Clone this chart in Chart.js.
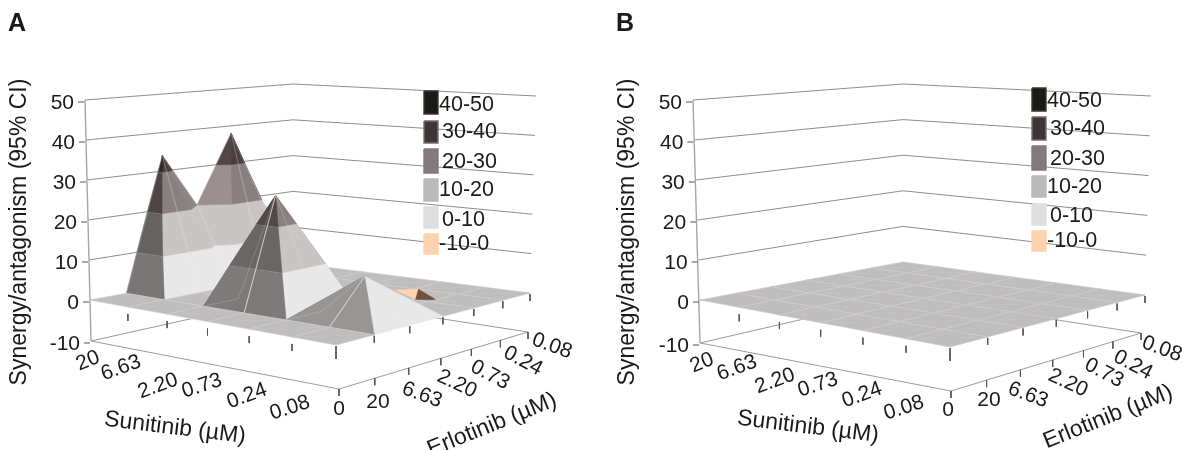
<!DOCTYPE html>
<html>
<head>
<meta charset="utf-8">
<script src="https://cdn.jsdelivr.net/npm/chart.js@4/dist/chart.umd.min.js"></script>
<style>
  html, body { margin: 0; padding: 0; background: #fff; }
  canvas { display: block; filter: blur(0.35px); }
</style>
</head>
<body>
<canvas id="chart" width="1182" height="450"></canvas>
<script>
// ── Datos: sinergia/antagonismo, una fila por dosis de sunitinib ──────────
const SUNITINIB = ["20", "6.63", "2.20", "0.73", "0.24", "0.08", "0"]
const ERLOTINIB = ["0", "20", "6.63", "2.20", "0.73", "0.24", "0.08"]
const Z_TICKS = [50, 40, 30, 20, 10, 0, -10]
const LEGEND_LABELS = ["40-50", "30-40", "20-30", "10-20", "0-10", "-10-0"]

const SYNERGY_A = [
  [0, 0, 34, 20, 38, 18, 0],
  [0, 0, 0, 0, 0, 0, 0],
  [0, 0, 0, 0, 0, 0, 0],
  [0, 0, 27, 0, 0, 0, 0],
  [0, 0, 0, 0, 0, 0, 0],
  [0, 0, 10, 0, 0, 0, 0],
  [0, 0, 0, 0, 0, 0, 0]
]
const SYNERGY_B = [
  [0, 0, 0, 0, 0, 0, 0],
  [0, 0, 0, 0, 0, 0, 0],
  [0, 0, 0, 0, 0, 0, 0],
  [0, 0, 0, 0, 0, 0, 0],
  [0, 0, 0, 0, 0, 0, 0],
  [0, 0, 0, 0, 0, 0, 0],
  [0, 0, 0, 0, 0, 0, 0]
]
// Hundimiento pequeño de A (antagonismo), en coordenadas de malla [i, j, z]
const DIP_LIGHT = [[3.79, 4.66, 0], [4.11, 4.99, 0], [4.3, 4.6, -1.6]]
const DIP_DARK = [[4.11, 4.99, 0], [5.0, 4.26, 0], [4.3, 4.6, -1.6]]

// ── Colores por banda: cara en sombra / cara iluminada ────────────────────
const BANDS = [
  { lo: -10, hi: 0,  dark: [111, 81, 64],  light: [255, 212, 176] },
  { lo: 0,   hi: 10, dark: [122, 118, 118], light: [232, 232, 232] },
  { lo: 10,  hi: 20, dark: [103, 98, 98],  light: [201, 197, 197] },
  { lo: 20,  hi: 30, dark: [79, 69, 69],   light: [138, 128, 128] },
  { lo: 30,  hi: 40, dark: [46, 38, 38],   light: [74, 63, 63] },
  { lo: 40,  hi: 50, dark: [28, 26, 22],   light: [40, 36, 32] }
]
const LEGEND_COLORS = ["#1c1a16", "#403535", "#827b7b", "#bdb9b9", "#dedede", "#ffd2ae"]
const LEGEND_EDGE = ["#3a3632", "#77706f", "#827b7b", "#bdb9b9", "#dedede", "#ffd2ae"]

// ── Geometría de cada panel (esquinas en píxeles a z = 0, 50 y -10) ───────
const PANEL_A = {
  letter: "A", letterX: 8, data: SYNERGY_A, dip: true,
  base: { L: [90, 300], F: [336, 345], R: [530, 293], K: [293, 263] },
  top:  { L: [85, 100], F: [333, 125], R: [536, 96],  K: [293, 84] },
  low:  { L: [91, 341], F: [339, 389], R: [528, 332], K: [293, 296] },
  legendX: 424,
  legendY: [[91, 114], [121, 143], [149, 173], [179, 201], [207, 228], [234, 254]],
  legendText: [[439, 105], [442, 132], [442, 162], [439, 190], [442, 220], [439, 244]],
  yTitleX: 20, yTitleY: 232,
  sun: [[88, 361, -22], [121, 368, -20], [158, 386, -20], [202, 386, -18], [247, 396, -20], [290, 408, -18]],
  erl: [[339, 409, 0], [378, 402, 0], [422, 395, 20], [457, 384, 25], [490, 375, 28], [523, 361, 28], [552, 346, 20]],
  sunTitle: [175, 428, 7], erlTitle: [492, 425, -22]
}
const PANEL_B = {
  letter: "B", letterX: 616, data: SYNERGY_B, dip: false,
  base: { L: [700, 300], F: [950, 347], R: [1145, 295], K: [903, 262] },
  top:  { L: [693, 100], F: [947, 125], R: [1151, 96],  K: [903, 84] },
  low:  { L: [700, 343], F: [951, 391], R: [1141, 333], K: [903, 296] },
  legendX: 1032,
  legendY: [[88, 111], [117, 140], [146, 170], [176, 197], [204, 225], [231, 251]],
  legendText: [[1047, 101], [1050, 129], [1050, 159], [1047, 187], [1050, 216], [1047, 241]],
  yTitleX: 628, yTitleY: 232,
  sun: [[702, 363, -22], [737, 368, -20], [775, 381, -20], [818, 385, -18], [862, 395, -20], [904, 408, -18]],
  erl: [[948, 410, 0], [989, 400, 0], [1028, 395, 20], [1068, 383, 25], [1104, 373, 28], [1133, 365, 28], [1162, 349, 20]],
  sunTitle: [808, 427, 7], erlTitle: [1108, 417, -22]
}

// ── Proyección: homografía cuadrado → cuadrilátero ────────────────────────
function homography(q) {
  const [x0, y0] = q.L, [x1, y1] = q.F, [x2, y2] = q.R, [x3, y3] = q.K
  const dx1 = x1 - x2, dx2 = x3 - x2, sx = x0 - x1 + x2 - x3
  const dy1 = y1 - y2, dy2 = y3 - y2, sy = y0 - y1 + y2 - y3
  const den = dx1 * dy2 - dx2 * dy1
  const g = (sx * dy2 - dx2 * sy) / den
  const h = (dx1 * sy - sx * dy1) / den
  const a = x1 - x0 + g * x1, b = x3 - x0 + h * x3
  const d = y1 - y0 + g * y1, e = y3 - y0 + h * y3
  return (u, v) => {
    const w = g * u + h * v + 1
    return [(a * u + b * v + x0) / w, (d * u + e * v + y0) / w]
  }
}

function makeProjector(panel) {
  const hBase = homography(panel.base)
  const hTop = homography(panel.top)
  const hLow = homography(panel.low)
  return (i, j, z) => {
    const u0 = i / 6, v0 = j / 6
    // ajuste fino: la malla real no sigue del todo la perspectiva
    const u = u0 + 0.11 * u0 * (1 - u0) * (1 - v0)
    const v = v0 - 0.08 * v0 * (1 - v0) * (1 - u0)
    const p = hBase(u, v)
    const q = z >= 0 ? hTop(u, v) : hLow(u, v)
    const t = z >= 0 ? z / 50 : -z / 10
    return { x: p[0] + (q[0] - p[0]) * t, y: p[1] + (q[1] - p[1]) * t }
  }
}

// ── Sombreado ─────────────────────────────────────────────────────────────
function shade(a, b, c) {
  const ux = b.i - a.i, uy = b.j - a.j, uz = (b.z - a.z) * 0.1
  const vx = c.i - a.i, vy = c.j - a.j, vz = (c.z - a.z) * 0.1
  let nx = uy * vz - uz * vy, ny = uz * vx - ux * vz, nz = ux * vy - uy * vx
  if (nz < 0) { nx = -nx; ny = -ny; nz = -nz }
  const len = Math.hypot(nx, ny, nz)
  nx /= len; ny /= len; nz /= len
  return 0.647 + 0.346 * nx + 0.152 * ny + 0.213 * nz + 0.7 * Math.max(nx, 0) * Math.max(-ny, 0)
}

function bandColor(band, f) {
  let t = (f - 0.56) / 0.48
  t = Math.max(0, Math.min(band.lo >= 20 ? 1.3 : 1, t))
  const c = band.dark.map((d, k) => Math.round(d + (band.light[k] - d) * t))
  return `rgb(${c[0]},${c[1]},${c[2]})`
}

// Recorta un polígono por una cota de z
function clipZ(poly, level, keepAbove) {
  const out = []
  poly.forEach((p, k) => {
    const q = poly[(k + 1) % poly.length]
    const pIn = keepAbove ? p.z >= level : p.z <= level
    const qIn = keepAbove ? q.z >= level : q.z <= level
    if (pIn) out.push(p)
    if (pIn !== qIn) {
      const t = (level - p.z) / (q.z - p.z)
      out.push({ i: p.i + (q.i - p.i) * t, j: p.j + (q.j - p.j) * t, z: level })
    }
  })
  return out
}

// ── Datasets ──────────────────────────────────────────────────────────────
const datasets = []

function addLine(points, color, width) {
  datasets.push({
    data: points, showLine: true, fill: false, tension: 0, pointRadius: 0,
    borderColor: color, borderWidth: width, clip: false
  })
}

function addShape(points, color, edge, width) {
  datasets.push({
    data: points.concat([points[0]]), showLine: true, fill: "shape", tension: 0, pointRadius: 0,
    backgroundColor: color, borderColor: edge || color, borderWidth: width === undefined ? 0.6 : width, clip: false
  })
}

function addWalls(panel, proj) {
  const wall = "#8f8d8d"
  ;[10, 20, 30, 40, 50].forEach(z => {
    addLine([proj(0, 0, z), proj(0, 6, z), proj(6, 6, z)], wall, 1)
  })
  // suelo a z = -10
  addLine([proj(0, 0, -10), proj(0, 6, -10), proj(6, 6, -10), proj(6, 0, -10), proj(0, 0, -10)], "#9c9a9a", 1)
  // eje vertical
  addLine([proj(0, 0, 50), proj(0, 0, -10)], "#a8a6a6", 1.4)
  Z_TICKS.forEach(z => {
    const p = proj(0, 0, z)
    addLine([{ x: p.x - 7, y: p.y + 2 }, { x: p.x - 1, y: p.y + 2 }], "#555", 1)
  })
  // marcas del borde inferior
  ERLOTINIB.forEach((_, j) => {
    const p = proj(6, j, -10)
    addLine([{ x: p.x, y: p.y }, { x: p.x, y: p.y + 7 }], "#555", 1)
  })
}

function addSurface(panel, proj) {
  const zs = panel.data
  const cells = []
  for (let i = 0; i < 6; i++) {
    for (let j = 0; j < 6; j++) cells.push([i, j])
  }
  cells.sort((a, b) => (a[0] - a[1]) - (b[0] - b[1]))

  // marcas del borde delantero, bajo la superficie
  SUNITINIB.forEach((_, i) => {
    const p = proj(i, 0, 0)
    if (i > 0) addLine([{ x: p.x, y: p.y + 7 }, { x: p.x, y: p.y + 14 }], "#555", 1)
  })
  ERLOTINIB.forEach((_, j) => {
    const p = proj(6, j, 0)
    addLine([{ x: p.x, y: p.y + 1 }, { x: p.x, y: p.y + 8 }], "#555", 1)
  })

  let dipDone = !panel.dip
  cells.forEach(([i, j]) => {
    if (!dipDone && i - j >= 1) {
      addDip(proj)
      dipDone = true
    }
    const node = (a, b) => ({ i: a, j: b, z: zs[a][b] })
    const c = [node(i, j), node(i + 1, j), node(i + 1, j + 1), node(i, j + 1)]
    // la diagonal pasa por el vértice de mayor |z|
    let top = 0
    c.forEach((n, k) => { if (Math.abs(n.z) > Math.abs(c[top].z)) top = k })
    const tris = top % 2 === 0
      ? [[c[0], c[1], c[2]], [c[0], c[2], c[3]]]
      : [[c[1], c[2], c[3]], [c[1], c[3], c[0]]]
    tris.sort((a, b) => depth(a) - depth(b))

    tris.forEach(tri => {
      const f = shade(tri[0], tri[1], tri[2])
      BANDS.forEach(band => {
        let poly = clipZ(tri, band.lo, true)
        if (poly.length) poly = clipZ(poly, band.hi, false)
        if (poly.length < 3) return
        const zMin = Math.min(...poly.map(p => p.z)), zMax = Math.max(...poly.map(p => p.z))
        if (zMax - zMin < 1e-9 && zMax === band.hi) return
        addShape(poly.map(p => proj(p.i, p.j, p.z)), bandColor(band, f))
        // línea clara entre bandas en las caras en sombra
        if (f < 0.8) {
          poly.forEach((p, k) => {
            const q = poly[(k + 1) % poly.length]
            if (p.z === band.hi && q.z === band.hi) {
              addLine([proj(p.i, p.j, p.z), proj(q.i, q.j, q.z)], "rgba(225,222,222,0.65)", 1)
            }
          })
        }
      })
    })

    // malla
    const faint = "rgba(238,236,236,0.22)"
    const strong = "rgba(238,236,236,0.75)"
    addLine([c[1], c[2]].map(n => proj(n.i, n.j, n.z)), faint, 0.9)
    addLine([c[2], c[3]].map(n => proj(n.i, n.j, n.z)), faint, 0.9)
    addLine([c[3], c[0]].map(n => proj(n.i, n.j, n.z)), faint, 0.9)
    // arista que sube desde el frente hasta un pico interior
    const ridge = i > 0 && c[0].z === 0 && c[3].z > 0
    addLine([c[0], ridge ? c[3] : c[1]].map(n => proj(n.i, n.j, n.z)), ridge ? strong : faint, 0.9)
    if (ridge) addLine([c[0], c[1]].map(n => proj(n.i, n.j, n.z)), faint, 0.9)
  })
}

function addDip(proj) {
  const pts = rows => rows.map(r => proj(r[0], r[1], r[2]))
  addShape(pts(DIP_LIGHT), "rgb(255,212,176)")
  addShape(pts(DIP_DARK), "rgb(111,81,64)")
}

function depth(tri) {
  return tri.reduce((s, n) => s + n.i - n.j, 0)
}

function addLegend(panel) {
  panel.legendY.forEach(([y0, y1], k) => {
    const x0 = panel.legendX, x1 = x0 + 14
    addShape(
      [{ x: x0, y: y0 }, { x: x1, y: y0 }, { x: x1, y: y1 }, { x: x0, y: y1 }],
      LEGEND_COLORS[k], LEGEND_EDGE[k], 1.4
    )
  })
}

;[PANEL_A, PANEL_B].forEach(panel => {
  const proj = makeProjector(panel)
  panel.proj = proj
  addWalls(panel, proj)
  addSurface(panel, proj)
  addLegend(panel)
})

// ── Textos ────────────────────────────────────────────────────────────────
function label(ctx, text, x, y, rot, font, align) {
  ctx.save()
  ctx.translate(x, y)
  ctx.rotate((rot || 0) * Math.PI / 180)
  ctx.font = font
  ctx.fillStyle = "#1a1a1a"
  ctx.textAlign = align || "center"
  ctx.textBaseline = "middle"
  ctx.fillText(text, 0, 0)
  ctx.restore()
}

const textPlugin = {
  id: "panelText",
  afterDraw(chart) {
    const ctx = chart.ctx
    const family = "'Liberation Sans', Arial, sans-serif"
    ;[PANEL_A, PANEL_B].forEach(p => {
      label(ctx, p.letter, p.letterX, 24, 0, `bold 25px ${family}`, "left")
      label(ctx, "Synergy/antagonism (95% CI)", p.yTitleX, p.yTitleY, -90, `23px ${family}`)
      Z_TICKS.forEach(z => {
        const q = p.proj(0, 0, z)
        label(ctx, String(z), q.x - 11, q.y + 3, 0, `21px ${family}`, "right")
      })
      p.sun.forEach(([x, y, r], k) => label(ctx, SUNITINIB[k], x, y, r, `21px ${family}`))
      p.erl.forEach(([x, y, r], k) => label(ctx, ERLOTINIB[k], x, y, r, `21px ${family}`))
      label(ctx, "Sunitinib (µM)", p.sunTitle[0], p.sunTitle[1], p.sunTitle[2], `23px ${family}`)
      label(ctx, "Erlotinib (µM)", p.erlTitle[0], p.erlTitle[1], p.erlTitle[2], `23px ${family}`)
      LEGEND_LABELS.forEach((t, k) => {
        const [x, y] = p.legendText[k]
        label(ctx, t, x, y, 0, `21.5px ${family}`, "left")
      })
    })
  }
}

new Chart(document.getElementById("chart"), {
  type: "scatter",
  data: { datasets: datasets.slice().reverse() },
  options: {
    responsive: false,
    animation: false,
    events: [],
    layout: { padding: 0 },
    plugins: { legend: { display: false }, tooltip: { enabled: false } },
    scales: {
      x: { type: "linear", min: 0, max: 1182, display: false },
      y: { type: "linear", min: 0, max: 450, reverse: true, display: false }
    }
  },
  plugins: [textPlugin]
})
</script>
</body>
</html>
